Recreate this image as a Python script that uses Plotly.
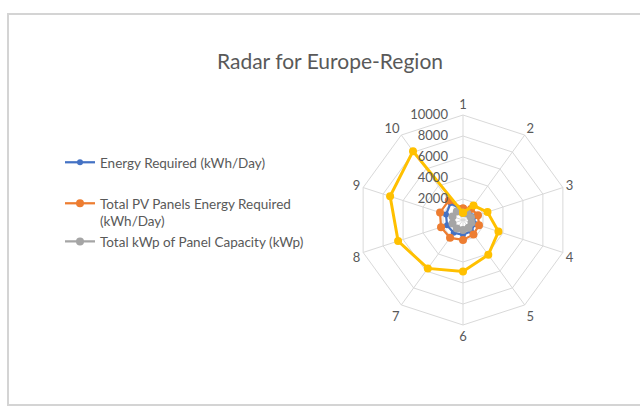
import plotly.graph_objects as go

# Spoke categories (regions numbered 1-10)
categories = ["1", "2", "3", "4", "5", "6", "7", "8", "9", "10"]

# Series values per category
energy_required = [900, 1000, 1100, 1200, 1300, 1400, 1500, 1600, 1700, 2000]
pv_energy_required = [1100, 1300, 1500, 1600, 1700, 1900, 2100, 2200, 2300, 2300]
kwp_capacity = [700, 750, 800, 850, 900, 950, 1000, 1050, 1050, 1000]
panels_required = [700, 1700, 2450, 3550, 4100, 4900, 5700, 6500, 7300, 8100]

radial_ticks = [2000, 4000, 6000, 8000, 10000]
radial_labels = [str(v) for v in radial_ticks]

FONT = "Lato, 'Open Sans', sans-serif"
TEXT = "#595959"
GRID = "#d9d9d9"


def closed(values):
    return values + values[:1]


theta = closed(categories)

fig = go.Figure()

series = [
    ("Energy Required (kWh/Day)", energy_required, "#4472C4", 2.25, 6, True, "legend"),
    ("Total PV Panels Energy Required<br>(kWh/Day)", pv_energy_required, "#ED7D31", 2.25, 8, True, "legend2"),
    ("Total kWp of Panel Capacity (kWp)", kwp_capacity, "#A5A5A5", 2.25, 8, True, "legend2"),
    ("Total Panels Required", panels_required, "#FFC000", 3, 8, False, "legend"),
]

for i, (name, vals, color, lw, ms, show, lg) in enumerate(series):
    fig.add_trace(go.Scatterpolar(
        r=closed(vals),
        theta=theta,
        mode="lines+markers",
        name=name,
        line=dict(color=color, width=lw),
        marker=dict(color=color, size=ms),
        showlegend=show,
        legend=lg,
        legendgroup=f"g{i}",
    ))

legend_style = dict(
    xanchor="left",
    yanchor="top",
    font=dict(family=FONT, size=13.5, color=TEXT),
    valign="top",
    itemwidth=30,
    bgcolor="rgba(0,0,0,0)",
)

fig.update_layout(
    width=640,
    height=408,
    margin=dict(l=0, r=0, t=0, b=0),
    paper_bgcolor="white",
    plot_bgcolor="white",
    font=dict(family=FONT, color=TEXT, size=12),
    title=dict(
        text="Radar for Europe-Region",
        x=330 / 640, xanchor="center",
        y=1 - 62 / 408, yanchor="middle",
        font=dict(family=FONT, size=21, color=TEXT),
    ),
    polar=dict(
        domain=dict(x=[(463 - 105) / 640, (463 + 105) / 640],
                    y=[(188 - 105) / 408, (188 + 105) / 408]),
        bgcolor="white",
        gridshape="linear",
        angularaxis=dict(
            direction="clockwise",
            rotation=90,
            type="category",
            categoryarray=categories,
            gridcolor=GRID,
            linecolor=GRID,
            linewidth=1,
            showline=True,
            ticks="",
            tickfont=dict(family=FONT, size=13, color=TEXT),
        ),
        radialaxis=dict(
            range=[0, 10000],
            tickvals=radial_ticks,
            ticktext=radial_labels,
            angle=90,
            tickangle=90,
            side="counterclockwise",
            showline=False,
            gridcolor=GRID,
            ticks="outside",
            ticklen=10,
            tickcolor="rgba(0,0,0,0)",
            tickfont=dict(family=FONT, size=13, color=TEXT),
        ),
    ),
    legend=dict(x=60 / 640, y=1 - 147 / 408, tracegroupgap=0, **legend_style),
    legend2=dict(x=60 / 640, y=1 - 188 / 408, tracegroupgap=0, **legend_style),
    shapes=[
        dict(type="rect", xref="paper", yref="paper",
             x0=8 / 640, x1=1.2, y0=1 - 405 / 408, y1=1 - 14 / 408,
             line=dict(color="#d4d4d4", width=2), fillcolor="rgba(0,0,0,0)"),
    ],
)

fig.write_html("out.html")
